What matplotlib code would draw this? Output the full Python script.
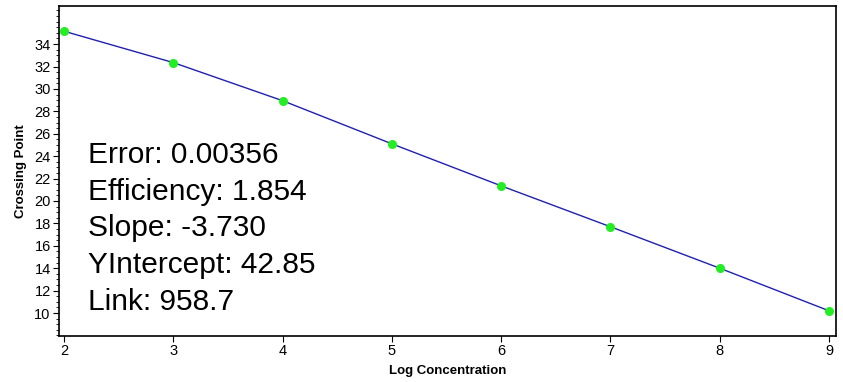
import matplotlib.pyplot as plt
import numpy as np
from matplotlib.ticker import MultipleLocator

plt.rcParams['font.family'] = ['Liberation Sans', 'DejaVu Sans']

log_conc = [2, 3, 4, 5, 6, 7, 8, 9]
crossing = [35.15, 32.35, 28.95, 25.1, 21.35, 17.7, 14.0, 10.2]

stats = ["Error: 0.00356", "Efficiency: 1.854", "Slope: -3.730",
         "YIntercept: 42.85", "Link: 958.7"]

fig = plt.figure(figsize=(8.43, 3.82), dpi=100)
ax = fig.add_axes([59/843, 1 - 336/382, (836-59)/843, (336-6)/382])

ax.plot(log_conc, crossing, color='#2020b0', lw=1.0, zorder=2)
ax.plot(log_conc, crossing, ls='none', marker='o', ms=5.5, color='#22ee22', zorder=3)

ax.set_xlim(1.954, 9.064)
ax.set_ylim(7.95, 37.4)
ax.set_xticks(range(2, 10))
ax.set_yticks(range(10, 36, 2))
ax.yaxis.set_minor_locator(MultipleLocator(0.5))
ax.tick_params(axis='both', labelsize=10.5, length=4, width=0.8, pad=2)
ax.tick_params(axis='y', which='minor', length=2)
for s in ax.spines.values():
    s.set_linewidth(1.2)

ax.set_xlabel("Log Concentration", fontsize=9.5, fontweight='bold', labelpad=5)
ax.set_ylabel("Crossing Point", fontsize=9.5, fontweight='bold', labelpad=5)

for i, t in enumerate(stats):
    fig.text(88/843, 1 - (155 + i*36.7)/382, t, fontsize=21.5, va='center', ha='left')

plt.savefig("out.png", dpi=100)
